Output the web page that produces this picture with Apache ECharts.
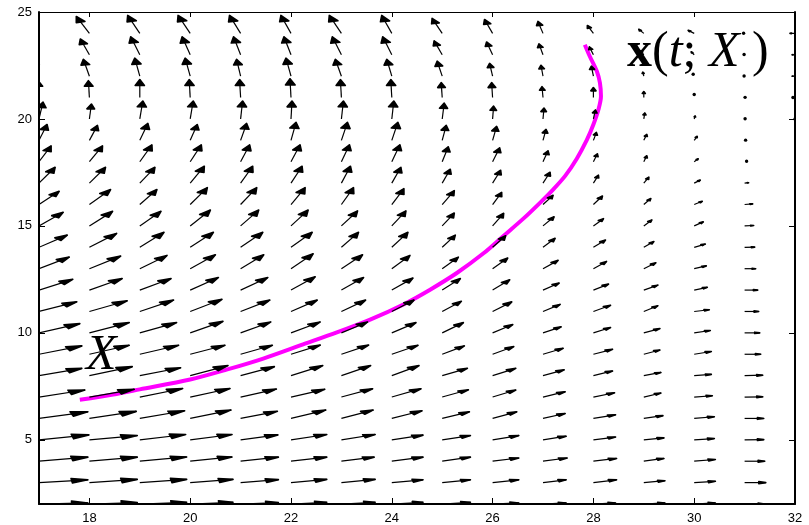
<!DOCTYPE html>
<html>
<head>
<meta charset="utf-8">
<script src="https://cdn.jsdelivr.net/npm/echarts@6/dist/echarts.min.js"></script>
<style>
  html, body { margin: 0; padding: 0; background: #ffffff; }
  #chart { width: 809px; height: 525px; }
</style>
</head>
<body>
<div id="chart"></div>
<script>
// Arrow tails sit on an integer grid: one column per x, one row per y.
const xCols = [17, 18, 19, 20, 21, 22, 23, 24, 25, 26, 27, 28, 29, 30, 31, 32];
const yRows = [2, 3, 4, 5, 6, 7, 8, 9, 10, 11, 12, 13, 14, 15, 16, 17, 18, 19, 20, 21, 22, 23, 24];

// Horizontal arrow component (axis units), one inner list per column, bottom row first.
const U = [
  [0.97,0.97,0.97,0.99,0.97,0.91,0.85,0.85,0.81,0.75,0.67,0.60,0.56,0.48,0.40,0.32,0.24,0.16,0.08,-0.02,-0.12,-0.18,-0.26],
  [0.95,0.95,0.95,0.95,0.93,0.89,0.85,0.79,0.79,0.75,0.65,0.62,0.54,0.46,0.42,0.32,0.26,0.16,0.04,-0.02,-0.12,-0.18,-0.26],
  [0.93,0.93,0.93,0.91,0.89,0.85,0.81,0.77,0.73,0.67,0.62,0.54,0.48,0.42,0.34,0.30,0.24,0.16,0.06,0.00,-0.10,-0.18,-0.24],
  [0.85,0.85,0.83,0.83,0.81,0.79,0.75,0.69,0.65,0.63,0.56,0.50,0.46,0.40,0.34,0.28,0.22,0.14,0.06,-0.02,-0.10,-0.16,-0.24],
  [0.75,0.75,0.75,0.74,0.73,0.71,0.67,0.63,0.60,0.58,0.54,0.46,0.44,0.36,0.32,0.24,0.18,0.12,0.04,-0.02,-0.08,-0.14,-0.22],
  [0.71,0.71,0.71,0.71,0.69,0.67,0.63,0.58,0.58,0.52,0.48,0.44,0.42,0.34,0.28,0.22,0.18,0.10,0.02,-0.02,-0.10,-0.14,-0.20],
  [0.67,0.67,0.65,0.67,0.63,0.62,0.58,0.54,0.52,0.48,0.44,0.42,0.34,0.32,0.24,0.18,0.16,0.12,0.04,-0.02,-0.12,-0.18,-0.24],
  [0.62,0.62,0.62,0.62,0.60,0.58,0.54,0.52,0.48,0.44,0.42,0.36,0.32,0.28,0.24,0.18,0.16,0.12,0.04,-0.02,-0.10,-0.18,-0.20],
  [0.56,0.56,0.56,0.56,0.54,0.52,0.50,0.44,0.42,0.38,0.36,0.32,0.26,0.24,0.24,0.16,0.12,0.08,0.04,-0.02,-0.10,-0.16,-0.20],
  [0.52,0.52,0.52,0.52,0.48,0.46,0.46,0.42,0.40,0.38,0.34,0.30,0.26,0.22,0.18,0.16,0.14,0.08,0.02,-0.02,-0.06,-0.12,-0.16],
  [0.46,0.46,0.48,0.46,0.44,0.44,0.42,0.40,0.36,0.34,0.32,0.30,0.24,0.22,0.20,0.14,0.10,0.06,0.02,-0.02,-0.04,-0.08,-0.10],
  [0.44,0.46,0.46,0.44,0.44,0.42,0.38,0.38,0.34,0.34,0.30,0.26,0.24,0.20,0.18,0.10,0.08,0.06,0.04,0.00,-0.04,-0.08,-0.12],
  [0.42,0.42,0.40,0.40,0.38,0.34,0.34,0.32,0.32,0.28,0.28,0.24,0.20,0.16,0.14,0.10,0.06,0.06,0.02,0.00,-0.02,-0.06,-0.10],
  [0.42,0.42,0.42,0.40,0.40,0.36,0.34,0.34,0.32,0.30,0.26,0.24,0.22,0.18,0.16,0.12,0.08,0.06,0.02,0.00,-0.02,-0.06,-0.12],
  [0.40,0.42,0.40,0.38,0.38,0.36,0.36,0.32,0.30,0.28,0.26,0.22,0.20,0.18,0.16,0.08,0.04,0.02,0.01,0.01,-0.01,-0.01,-0.02],
  [0.40,0.40,0.40,0.38,0.38,0.36,0.34,0.32,0.30,0.28,0.26,0.22,0.20,0.18,0.16,0.08,0.04,0.02,0.00,-0.04,-0.06,-0.06,-0.10]
];

// Vertical arrow component (axis units), same layout as U.
const V = [
  [0.05,0.13,0.19,0.23,0.31,0.33,0.34,0.39,0.43,0.45,0.50,0.54,0.57,0.64,0.62,0.74,0.74,0.74,0.79,0.79,0.79,0.79,0.84],
  [0.07,0.15,0.19,0.20,0.33,0.36,0.42,0.42,0.48,0.50,0.54,0.59,0.65,0.68,0.70,0.74,0.74,0.70,0.70,0.79,0.79,0.74,0.79],
  [0.08,0.15,0.20,0.25,0.36,0.40,0.37,0.42,0.48,0.53,0.54,0.62,0.70,0.68,0.70,0.74,0.79,0.79,0.84,0.84,0.84,0.84,0.84],
  [0.08,0.15,0.20,0.25,0.39,0.40,0.47,0.42,0.54,0.57,0.59,0.65,0.70,0.74,0.79,0.79,0.79,0.74,0.84,0.84,0.84,0.84,0.84],
  [0.07,0.14,0.19,0.23,0.33,0.37,0.42,0.42,0.51,0.53,0.59,0.65,0.70,0.74,0.79,0.79,0.79,0.79,0.84,0.84,0.79,0.84,0.84],
  [0.08,0.15,0.19,0.25,0.39,0.36,0.47,0.43,0.51,0.53,0.62,0.70,0.70,0.74,0.79,0.79,0.79,0.84,0.84,0.88,0.84,0.84,0.84],
  [0.08,0.15,0.19,0.25,0.39,0.39,0.47,0.43,0.51,0.53,0.59,0.65,0.70,0.70,0.79,0.79,0.79,0.84,0.84,0.84,0.79,0.84,0.84],
  [0.08,0.13,0.19,0.22,0.36,0.39,0.47,0.42,0.48,0.53,0.56,0.62,0.70,0.70,0.74,0.74,0.79,0.84,0.84,0.84,0.79,0.84,0.84],
  [0.08,0.13,0.19,0.20,0.31,0.34,0.34,0.39,0.48,0.48,0.54,0.54,0.57,0.60,0.65,0.65,0.70,0.70,0.74,0.70,0.70,0.65,0.70],
  [0.05,0.13,0.15,0.20,0.31,0.33,0.34,0.36,0.39,0.45,0.48,0.50,0.54,0.59,0.57,0.60,0.65,0.65,0.60,0.70,0.60,0.60,0.65],
  [0.05,0.13,0.15,0.17,0.23,0.25,0.27,0.28,0.28,0.33,0.33,0.39,0.42,0.43,0.43,0.51,0.51,0.51,0.51,0.51,0.51,0.51,0.56],
  [0.05,0.13,0.13,0.13,0.17,0.20,0.22,0.23,0.25,0.29,0.28,0.34,0.34,0.34,0.40,0.37,0.37,0.37,0.42,0.47,0.47,0.37,0.37],
  [0.05,0.09,0.13,0.09,0.13,0.19,0.15,0.20,0.20,0.27,0.23,0.28,0.27,0.28,0.28,0.28,0.28,0.28,0.28,0.28,0.19,0.19,0.19],
  [0.05,0.06,0.08,0.06,0.08,0.06,0.06,0.13,0.11,0.08,0.13,0.13,0.15,0.19,0.15,0.14,0.14,0.19,0.14,0.14,0.09,0.14,0.14],
  [0.00,0.00,0.00,0.01,0.00,0.01,0.02,0.00,0.00,0.00,0.00,0.00,0.01,0.02,0.03,0.02,0.02,0.01,0.01,0.01,0.01,0.01,0.01],
  [0.00,0.00,0.00,0.00,0.00,0.00,0.00,0.00,0.00,0.00,0.00,0.00,0.00,0.00,0.00,0.00,0.00,0.00,0.00,0.00,0.00,0.00,0.00]
];

// Trajectory x(t; X) starting from X.
const pathX = [17.81,18.47,19.00,20.00,20.72,21.45,22.24,22.91,23.57,24.23,24.76,25.29,25.82,26.21,26.61,26.94,27.20,27.44,27.67,27.87,28.00,28.10,28.15,28.13,28.07,27.93,27.83];
const pathY = [6.87,7.12,7.36,7.82,8.28,8.80,9.46,10.02,10.62,11.33,12.02,12.80,13.72,14.52,15.34,16.08,16.70,17.34,18.14,19.02,19.74,20.44,21.06,21.68,22.22,22.92,23.47];

const xTicks = [18, 20, 22, 24, 26, 28, 30, 32];
const yTicks = [5, 10, 15, 20, 25];

const arrows = [];
xCols.forEach((x, i) => {
  yRows.forEach((y, j) => {
    arrows.push([x, y, U[i][j], V[i][j]]);
  });
});
const path = pathX.map((x, i) => [x, pathY[i]]);

// Head geometry in axis units (quiver-style barbs)
const HEAD_A = 0.33, HEAD_B = 0.33;

function renderArrow(params, api) {
  const x = api.value(0), y = api.value(1), u = api.value(2), v = api.value(3);
  const tail = api.coord([x, y]);
  const tip = api.coord([x + u, y + v]);
  const b1 = api.coord([x + u - HEAD_A * (u + HEAD_B * v), y + v - HEAD_A * (v - HEAD_B * u)]);
  const b2 = api.coord([x + u - HEAD_A * (u - HEAD_B * v), y + v - HEAD_A * (v + HEAD_B * u)]);
  const len = Math.hypot(tip[0] - tail[0], tip[1] - tail[1]);
  if (len < 3) {
    return {
      type: 'circle',
      shape: { cx: tip[0], cy: tip[1], r: 1.7 },
      style: { fill: '#000' }
    };
  }
  return {
    type: 'group',
    children: [
      { type: 'line', shape: { x1: tail[0], y1: tail[1], x2: tip[0], y2: tip[1] },
        style: { stroke: '#000', lineWidth: 1.2 } },
      { type: 'polygon', shape: { points: [b1, tip, b2] },
        style: { fill: '#000', stroke: '#000', lineWidth: 1.6, lineJoin: 'round' } }
    ]
  };
}

const serif = '"Liberation Serif", "Times New Roman", serif';
const axisFont = { color: '#000', fontFamily: '"Liberation Sans", Arial, sans-serif', fontSize: 13 };

const chart = echarts.init(document.getElementById('chart'), null, { renderer: 'canvas' });
chart.setOption({
  animation: false,
  backgroundColor: '#ffffff',
  grid: { left: 39, right: 14, top: 12, bottom: 18.5, containLabel: false },
  xAxis: [
    {
      type: 'value', min: 17, max: 32, position: 'bottom',
      axisLine: { show: true, onZero: false, lineStyle: { color: '#000', width: 2 } },
      axisTick: { show: true, inside: true, length: 6, customValues: xTicks, lineStyle: { color: '#000' } },
      axisLabel: { show: true, customValues: xTicks, margin: 8, ...axisFont },
      splitLine: { show: false }
    },
    {
      type: 'value', min: 17, max: 32, position: 'top',
      axisLine: { show: true, onZero: false, lineStyle: { color: '#000', width: 1.2 } },
      axisTick: { show: true, inside: true, length: 5, customValues: xTicks, lineStyle: { color: '#000' } },
      axisLabel: { show: false },
      splitLine: { show: false }
    }
  ],
  yAxis: [
    {
      type: 'value', min: 2, max: 25, position: 'left',
      axisLine: { show: true, onZero: false, lineStyle: { color: '#000', width: 2 } },
      axisTick: { show: true, inside: true, length: 6, customValues: yTicks, lineStyle: { color: '#000' } },
      axisLabel: { show: true, customValues: yTicks, margin: 7, ...axisFont },
      splitLine: { show: false }
    },
    {
      type: 'value', min: 2, max: 25, position: 'right',
      axisLine: { show: true, onZero: false, lineStyle: { color: '#000', width: 2 } },
      axisTick: { show: true, inside: true, length: 6, customValues: yTicks, lineStyle: { color: '#000' } },
      axisLabel: { show: false },
      splitLine: { show: false }
    }
  ],
  series: [
    {
      type: 'line',
      data: path,
      xAxisIndex: 0, yAxisIndex: 0,
      showSymbol: false,
      symbol: 'none',
      smooth: 0.3,
      clip: true,
      z: 1,
      lineStyle: { color: '#ff00ff', width: 4 }
    },
    {
      type: 'custom',
      data: arrows,
      xAxisIndex: 0, yAxisIndex: 0,
      renderItem: renderArrow,
      clip: true,
      silent: true,
      z: 2
    }
  ],
  graphic: [
    {
      type: 'text', x: 86, y: 356, z: 10,
      style: { text: 'X', font: 'italic 50px ' + serif, fill: '#000', align: 'left', verticalAlign: 'middle' }
    },
    {
      type: 'text', x: 627, y: 53, z: 10,
      style: {
        text: '{b|x}{n|(}{i|t}{n|; }{i|X}{n| )}',
        align: 'left', verticalAlign: 'middle', fill: '#000',
        rich: {
          b: { font: 'bold 50px ' + serif, fill: '#000' },
          n: { font: '50px ' + serif, fill: '#000' },
          i: { font: 'italic 50px ' + serif, fill: '#000' }
        }
      }
    }
  ]
});
</script>
</body>
</html>
